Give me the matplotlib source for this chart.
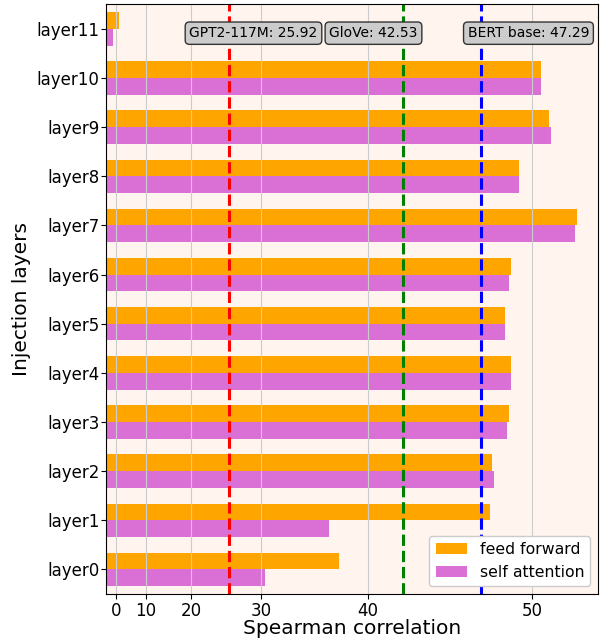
import numpy as np
import matplotlib
matplotlib.use("Agg")
import matplotlib.pyplot as plt
import matplotlib.transforms as mtransforms

# data
layers = ["layer0", "layer1", "layer2", "layer3", "layer4", "layer5",
          "layer6", "layer7", "layer8", "layer9", "layer10", "layer11"]
feed_forward = [37.7, 47.8, 47.9, 48.8, 48.9, 48.6, 48.9, 52.1, 49.3, 50.8, 50.4, 1.1]
self_attention = [30.4, 36.8, 48.0, 48.7, 48.9, 48.6, 48.8, 52.0, 49.3, 50.9, 50.4, -1.3]

baseline_names = ["GPT2-117M", "GloVe", "BERT base"]
baseline_scores = [25.92, 42.53, 47.29]
baseline_colors = ["red", "green", "blue"]
label_x = [29.1, 40.4, 49.8]

# axis is stretched towards the high end
k = 23.37
fwd = lambda x: np.exp(np.asarray(x) / k)
inv = lambda y: k * np.log(np.asarray(y))

fig = plt.figure(figsize=(6.02, 6.39), dpi=100)
ax = fig.add_axes([0.176, 0.0704, 0.8178, 0.9229])
ax.set_facecolor("#fff5ee")
ax.set_xscale("function", functions=(fwd, inv))

x_left = -4.7
y = np.arange(len(layers))
h = 0.34
ff = np.array(feed_forward)
sa = np.array(self_attention)
ax.barh(y + h / 2, ff - x_left, left=x_left, height=h, color="orange", label="feed forward")
ax.barh(y - h / 2, sa - x_left, left=x_left, height=h, color="orchid", label="self attention")

trans = mtransforms.blended_transform_factory(ax.transData, ax.transAxes)
for name, score, c, lx in zip(baseline_names, baseline_scores, baseline_colors, label_x):
    ax.axvline(score, color=c, linestyle="--", linewidth=2.2)
    ax.text(lx, 0.951, f"{name}: {score:.2f}", transform=trans, ha="center", va="center",
            fontsize=10, bbox=dict(boxstyle="round,pad=0.3", facecolor="#cccccc", edgecolor="#333333"))

ax.set_xlim(x_left, 53.05)
ax.set_ylim(-0.5, 11.5)
ax.set_xticks([0, 10, 20, 30, 40, 50])
ax.set_yticks(y)
ax.set_yticklabels(layers)
ax.tick_params(axis="both", labelsize=12)
ax.tick_params(axis="y", pad=1.2)
ax.tick_params(axis="x", pad=2)
ax.grid(axis="x", color="#cccccc")
ax.set_xlabel("Spearman correlation", fontsize=14.5, labelpad=-0.5)
ax.set_ylabel("Injection layers", fontsize=14.5)
ax.legend(loc="lower right", fontsize=11.3, framealpha=1)

plt.savefig("out.png", dpi=100)
plt.close()
